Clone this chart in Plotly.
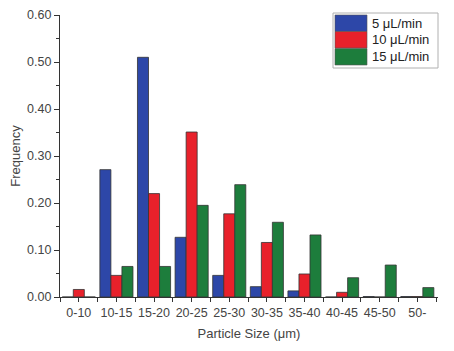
import plotly.graph_objects as go

categories = ["0-10", "10-15", "15-20", "20-25", "25-30", "30-35", "35-40", "40-45", "45-50", "50-"]
flow_5 = [0.0, 0.271, 0.51, 0.127, 0.046, 0.022, 0.013, 0.0, 0.001, 0.001]
flow_10 = [0.016, 0.046, 0.22, 0.351, 0.177, 0.116, 0.049, 0.01, 0.0, 0.001]
flow_15 = [0.0, 0.065, 0.065, 0.195, 0.239, 0.159, 0.132, 0.041, 0.068, 0.02]
series_names = ["5 μL/min", "10 μL/min", "15 μL/min"]
colors = ["#2d47a8", "#e8212b", "#1d7d3c"]

positions = list(range(len(categories)))
boundaries = [p - 0.5 for p in positions] + [positions[-1] + 0.5]

fig = go.Figure()
for name, vals, col in zip(series_names, [flow_5, flow_10, flow_15], colors):
    fig.add_trace(go.Bar(x=positions, y=vals, name=name, showlegend=False,
                         marker=dict(color=col, line=dict(color="#333333", width=0.8))))

# page has an 8px body margin; target plot area in page pixels: 60..438 x, 15..297 y
OFF = 8
W, H = 454 - OFF, 351 - OFF
L, R, T, B = 60, 438, 15, 297
def px(x):
    return (x - L) / (R - L)
def py(y):
    return (B - y) / (B - T)

fig.add_shape(type="rect", xref="paper", yref="paper", x0=px(333), x1=px(438), y0=py(68), y1=py(13),
              line=dict(color="#b0b0b0", width=1), fillcolor="white", layer="above")
row_tops = [15, 31.5, 48.5]
for i, (name, col) in enumerate(zip(series_names, colors)):
    t = row_tops[i]
    fig.add_shape(type="rect", xref="paper", yref="paper", x0=px(335), x1=px(367), y0=py(t + 16.5), y1=py(t),
                  line=dict(color="#555555", width=0.6), fillcolor=col, layer="above")
    fig.add_annotation(xref="paper", yref="paper", x=px(370), y=py(t + 8.3), text=name, showarrow=False,
                       xanchor="left", yanchor="middle", font=dict(size=13, color="#222222"))

font = "Liberation Sans, Arial, sans-serif"
fig.update_layout(
    width=W, height=H,
    margin=dict(l=L - OFF, r=454 - R, t=T - OFF, b=351 - B),
    paper_bgcolor="white", plot_bgcolor="white",
    barmode="group", bargap=0.12, bargroupgap=0,
    font=dict(family=font, size=12, color="#444444"),
    showlegend=False,
    xaxis=dict(title=dict(text="Particle Size (μm)", font=dict(size=13), standoff=9),
               range=[-0.5, 9.55], tickmode="array", tickvals=positions, ticktext=categories,
               tickfont=dict(size=12.5),
               showline=True, linecolor="#333333", linewidth=1.2,
               ticks="outside", ticklen=4, tickcolor="#333333",
               minor=dict(tickmode="array", tickvals=boundaries, ticks="outside", ticklen=4, tickcolor="#333333"),
               showgrid=False, zeroline=False, automargin=False),
    yaxis=dict(title=dict(text="Frequency", font=dict(size=13), standoff=7),
               range=[0, 0.6], dtick=0.1, tickformat=".2f", tickfont=dict(size=12.5),
               showline=True, linecolor="#333333", linewidth=1.2,
               ticks="outside", ticklen=5, tickcolor="#333333",
               minor=dict(dtick=0.05, ticks="outside", ticklen=3, tickcolor="#333333"),
               showgrid=False, zeroline=False, automargin=False),
)
fig.write_html("out.html")
